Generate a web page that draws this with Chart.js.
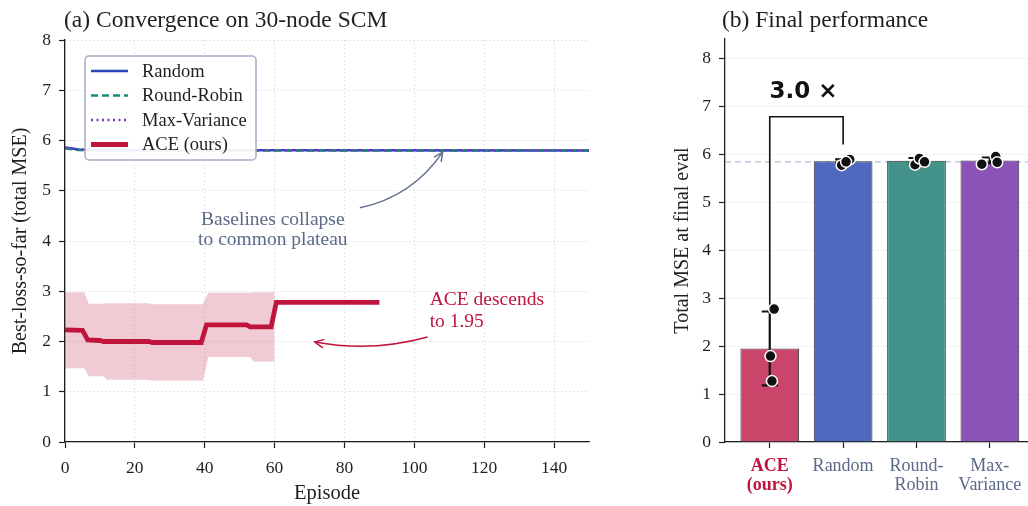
<!DOCTYPE html>
<html>
<head>
<meta charset="utf-8">
<script src="https://cdn.jsdelivr.net/npm/chart.js@4.4.1/dist/chart.umd.min.js"></script>
<style>
  html, body { margin: 0; padding: 0; background: #fff; }
  #wrap { position: relative; width: 1028px; height: 506px; }
  #curve { position: absolute; left: 0; top: 0; }
  #bars { position: absolute; left: 610px; top: 0; }
</style>
</head>
<body>
<div id="wrap">
  <canvas id="curve" width="610" height="506"></canvas>
  <canvas id="bars" width="418" height="506"></canvas>
</div>
<script>
// ---------- (a) convergence curves ----------
const episodeTicks = [0, 20, 40, 60, 80, 100, 120, 140];
const mseTicks = [0, 1, 2, 3, 4, 5, 6, 7, 8];

const randomEp  = [0, 4, 8, 150];
const randomVal = [5.86, 5.82, 5.81, 5.80];
const rrEp      = [0, 4, 8, 150];
const rrVal     = [5.84, 5.81, 5.80, 5.80];
const mvEp      = [0, 4, 8, 150];
const mvVal     = [5.85, 5.82, 5.81, 5.80];

const aceEp  = [0, 5, 6.5, 10, 11, 24, 25, 39, 40.5, 52, 53, 59, 60.5, 90];
const aceVal = [2.23, 2.22, 2.03, 2.02, 2.00, 2.00, 1.98, 1.98, 2.33, 2.33, 2.29, 2.29, 2.78, 2.78];

const bandEp = [0, 5.5, 6.8, 11, 12, 24, 25, 39.5, 41, 53, 54, 60];
const bandHi = [2.98, 2.98, 2.75, 2.75, 2.76, 2.76, 2.74, 2.74, 2.97, 2.97, 2.98, 2.98];
const bandLo = [1.47, 1.47, 1.31, 1.31, 1.24, 1.24, 1.22, 1.22, 1.69, 1.69, 1.60, 1.60];

const seriesNames = ["Random", "Round-Robin", "Max-Variance", "ACE (ours)"];

// ---------- (b) final performance ----------
const methods = ["ACE (ours)", "Random", "Round-Robin", "Max-Variance"];
const methodTicks = [["ACE", "(ours)"], ["Random"], ["Round-", "Robin"], ["Max-", "Variance"]];
const finalMse = [1.95, 5.85, 5.86, 5.87];
const errLo = [1.18, 5.81, 5.80, 5.81];
const errHi = [2.72, 5.89, 5.92, 5.93];
const seedMse = [[2.77, 1.79, 1.27], [5.77, 5.89, 5.84], [5.78, 5.91, 5.84], [5.79, 5.95, 5.83]];
const seedJitter = [[0.06, 0.01, 0.03], [-0.02, 0.09, 0.04], [-0.02, 0.04, 0.11], [-0.11, 0.08, 0.10]];
const plateau = 5.84;

const serif = "'Liberation Serif', 'Times New Roman', serif";
const ink = '#1f1f1f';
const slate = '#5b6a88';
const crimson = '#c0143c';
const lineColors = ['#2a44b4', '#178a73', '#7a3cc4', crimson];
const barColors = ['#c9466a', '#5069bf', '#44938b', '#8b52b7'];

Chart.defaults.font.family = serif;
Chart.defaults.color = ink;
Chart.defaults.animation = false;

const pts = (xs, ys) => xs.map((x, i) => ({ x: x, y: ys[i] }));

function curvedArrow(ctx, x1, y1, x2, y2, rad, color) {
  const mx = (x1 + x2) / 2, my = (y1 + y2) / 2;
  const cx = mx - rad * (y2 - y1), cy = my + rad * (x2 - x1);
  ctx.save();
  ctx.strokeStyle = color;
  ctx.lineWidth = 1.5;
  ctx.beginPath();
  ctx.moveTo(x1, y1);
  ctx.quadraticCurveTo(cx, cy, x2, y2);
  ctx.stroke();
  const a = Math.atan2(y2 - cy, x2 - cx);
  ctx.beginPath();
  ctx.moveTo(x2 - 10 * Math.cos(a - 0.45), y2 - 10 * Math.sin(a - 0.45));
  ctx.lineTo(x2, y2);
  ctx.lineTo(x2 - 10 * Math.cos(a + 0.45), y2 - 10 * Math.sin(a + 0.45));
  ctx.stroke();
  ctx.restore();
}

// panel (a) extras: title, annotations, legend
const curveDecor = {
  id: 'curveDecor',
  afterDraw(chart) {
    const { ctx, chartArea, scales: { x, y } } = chart;
    ctx.save();
    ctx.fillStyle = ink;
    ctx.font = "23.5px " + serif;
    ctx.textAlign = 'left';
    ctx.textBaseline = 'alphabetic';
    ctx.fillText("(a) Convergence on 30-node SCM", chartArea.left - 1, 27);

    // annotations
    ctx.font = "19.5px " + serif;
    ctx.textAlign = 'center';
    ctx.textBaseline = 'middle';
    ctx.fillStyle = slate;
    ctx.fillText("Baselines collapse", x.getPixelForValue(59.5), y.getPixelForValue(4.42));
    ctx.fillText("to common plateau", x.getPixelForValue(59.5), y.getPixelForValue(4.02));
    curvedArrow(ctx, x.getPixelForValue(84.4), y.getPixelForValue(4.66),
                x.getPixelForValue(108.1), y.getPixelForValue(5.77), 0.2, '#62718f');

    ctx.textAlign = 'left';
    ctx.fillStyle = crimson;
    ctx.fillText("ACE descends", x.getPixelForValue(104.4), y.getPixelForValue(2.83));
    ctx.fillText("to 1.95", x.getPixelForValue(104.4), y.getPixelForValue(2.40));
    curvedArrow(ctx, x.getPixelForValue(103.8), y.getPixelForValue(2.09),
                x.getPixelForValue(71.5), y.getPixelForValue(1.99), -0.115, crimson);

    // legend
    const lx = chartArea.left + 20, ly = chartArea.top + 16, lw = 171, lh = 104;
    ctx.beginPath();
    ctx.roundRect(lx, ly, lw, lh, 4);
    ctx.fillStyle = 'rgba(255,255,255,0.92)';
    ctx.fill();
    ctx.strokeStyle = '#a3adc4';
    ctx.lineWidth = 1.5;
    ctx.stroke();
    const dashes = [[], [7, 4], [2, 3.5], []];
    const widths = [2.5, 2.5, 2.5, 5];
    seriesNames.forEach((name, i) => {
      const yy = ly + 15 + i * 24.5;
      ctx.beginPath();
      ctx.setLineDash(dashes[i]);
      ctx.strokeStyle = lineColors[i];
      ctx.lineWidth = widths[i];
      ctx.moveTo(lx + 6, yy);
      ctx.lineTo(lx + 43, yy);
      ctx.stroke();
      ctx.setLineDash([]);
      ctx.fillStyle = ink;
      ctx.font = "18.5px " + serif;
      ctx.textAlign = 'left';
      ctx.textBaseline = 'middle';
      ctx.fillText(name, lx + 57, yy + 1);
    });
    ctx.restore();
  }
};

new Chart(document.getElementById('curve'), {
  type: 'line',
  data: {
    datasets: [
      { data: pts(bandEp, bandLo), borderWidth: 0, pointRadius: 0, fill: false, order: 5 },
      { data: pts(bandEp, bandHi), borderWidth: 0, pointRadius: 0, fill: '-1',
        backgroundColor: 'rgba(192,20,60,0.22)', order: 4 },
      { label: seriesNames[0], data: pts(randomEp, randomVal), borderColor: lineColors[0],
        borderWidth: 2.5, pointRadius: 0, order: 3 },
      { label: seriesNames[1], data: pts(rrEp, rrVal), borderColor: lineColors[1],
        borderWidth: 2.5, borderDash: [7, 4], pointRadius: 0, order: 2 },
      { label: seriesNames[2], data: pts(mvEp, mvVal), borderColor: lineColors[2],
        borderWidth: 2.5, borderDash: [2, 3.5], pointRadius: 0, order: 1 },
      { label: seriesNames[3], data: pts(aceEp, aceVal), borderColor: crimson,
        borderWidth: 4.8, pointRadius: 0, order: 0 }
    ]
  },
  options: {
    responsive: false,
    devicePixelRatio: 1,
    layout: { autoPadding: false, padding: { top: 40, right: 21, bottom: 0, left: 0 } },
    plugins: { legend: { display: false }, tooltip: { enabled: false } },
    scales: {
      x: {
        type: 'linear', min: 0, max: 150,
        afterFit: s => { s.height = 64; },
        afterBuildTicks: s => { s.ticks = episodeTicks.map(v => ({ value: v })); },
        ticks: { font: { size: 17.5 }, color: ink, padding: 10, maxRotation: 0 },
        grid: { color: '#d6d6d6', lineWidth: 0.8, tickColor: ink, tickLength: 6, tickWidth: 1.2 },
        border: { color: ink, width: 1.3, dash: [1.5, 2.5] },
        title: { display: true, text: 'Episode', font: { size: 20.5 }, color: ink, padding: { top: 0, bottom: 0 } }
      },
      y: {
        min: 0, max: 8,
        afterFit: s => { s.width = 65; },
        afterBuildTicks: s => { s.ticks = mseTicks.map(v => ({ value: v })); },
        ticks: { font: { size: 17.5 }, color: ink, padding: 8 },
        grid: { color: '#d6d6d6', lineWidth: 0.8, tickColor: ink, tickLength: 6, tickWidth: 1.2 },
        border: { color: ink, width: 1.3, dash: [1.5, 2.5] },
        title: { display: true, text: 'Best-loss-so-far (total MSE)', font: { size: 20 }, color: ink, padding: { top: 9, bottom: 0 } }
      }
    }
  },
  plugins: [curveDecor]
});

// panel (b) extras: title, error bars, bracket
const barDecor = {
  id: 'barDecor',
  afterDatasetDraw(chart, args) {
    if (args.index !== 0) return;
    const { ctx, scales: { x, y } } = chart;
    ctx.save();
    ctx.strokeStyle = '#111';
    ctx.lineWidth = 2.2;
    methods.forEach((m, i) => {
      const px = x.getPixelForValue(i);
      const lo = y.getPixelForValue(errLo[i]), hi = y.getPixelForValue(errHi[i]);
      ctx.beginPath();
      ctx.moveTo(px, lo); ctx.lineTo(px, hi);
      ctx.moveTo(px - 8, lo); ctx.lineTo(px + 8, lo);
      ctx.moveTo(px - 8, hi); ctx.lineTo(px + 8, hi);
      ctx.stroke();
    });
    // speed-up bracket between ACE and Random
    const x0 = x.getPixelForValue(0), x1 = x.getPixelForValue(1);
    const top = y.getPixelForValue(6.78);
    ctx.lineWidth = 1.6;
    ctx.beginPath();
    ctx.moveTo(x0, y.getPixelForValue(errHi[0]));
    ctx.lineTo(x0, top);
    ctx.lineTo(x1, top);
    ctx.lineTo(x1, y.getPixelForValue(6.2));
    ctx.stroke();
    ctx.fillStyle = '#111';
    ctx.font = "bold 23px 'DejaVu Sans', sans-serif";
    ctx.textAlign = 'center';
    ctx.textBaseline = 'middle';
    ctx.fillText((finalMse[1] / finalMse[0]).toFixed(1) + " \u00d7", (x0 + x1) / 2 - 3, y.getPixelForValue(7.3));
    ctx.restore();
  },
  afterDraw(chart) {
    const { ctx, chartArea } = chart;
    ctx.save();
    ctx.fillStyle = ink;
    ctx.font = "23.5px " + serif;
    ctx.textAlign = 'left';
    ctx.textBaseline = 'alphabetic';
    ctx.fillText("(b) Final performance", chartArea.left - 3, 27);
    ctx.restore();
  }
};

const seedPts = [];
seedMse.forEach((vals, i) => vals.forEach((v, j) => seedPts.push({ x: i + seedJitter[i][j], y: v })));

new Chart(document.getElementById('bars'), {
  type: 'bar',
  data: {
    datasets: [
      { type: 'bar', data: finalMse.map((v, i) => ({ x: i, y: v })), backgroundColor: barColors,
        borderColor: '#3a3a3a', borderWidth: 1, categoryPercentage: 0.8, barPercentage: 1, order: 2 },
      { type: 'scatter', data: seedPts, pointRadius: 5.5, backgroundColor: '#111',
        borderColor: '#ffffff', borderWidth: 1.5, order: 0 },
      { type: 'line', data: [{ x: -0.61, y: plateau }, { x: 3.52, y: plateau }], borderColor: '#b5bdd4',
        borderWidth: 1.3, borderDash: [6, 4], pointRadius: 0, order: 3 }
    ]
  },
  options: {
    responsive: false,
    devicePixelRatio: 1,
    layout: { autoPadding: false, padding: { top: 39, right: 0, bottom: 0, left: 0 } },
    plugins: { legend: { display: false }, tooltip: { enabled: false } },
    scales: {
      x: {
        type: 'linear', min: -0.61, max: 3.52, offset: false,
        afterFit: s => { s.height = 64; s.paddingLeft = 0; s.paddingRight = 0; },
        afterBuildTicks: s => { s.ticks = methods.map((m, i) => ({ value: i })); },
        ticks: {
          callback: (v, i) => methodTicks[i],
          color: c => c.index === 0 ? crimson : slate,
          font: c => ({ size: 18, weight: c.index === 0 ? 'bold' : 'normal', lineHeight: 1.05 }),
          padding: 9, maxRotation: 0, autoSkip: false
        },
        grid: { offset: false, drawOnChartArea: false, tickColor: ink, tickLength: 6, tickWidth: 1.2 },
        border: { color: ink, width: 1.3 }
      },
      y: {
        min: 0, max: 8.4,
        afterFit: s => { s.width = 115; },
        afterBuildTicks: s => { s.ticks = mseTicks.map(v => ({ value: v })); },
        ticks: { font: { size: 17.5 }, color: ink, padding: 8 },
        grid: { color: '#d6d6d6', lineWidth: 0.8, tickColor: ink, tickLength: 6, tickWidth: 1.2 },
        border: { color: ink, width: 1.3, dash: [1.5, 2.5] },
        title: { display: true, text: 'Total MSE at final eval', font: { size: 20 }, color: ink, padding: { top: 61, bottom: 0 } }
      }
    }
  },
  plugins: [barDecor]
});
</script>
</body>
</html>
